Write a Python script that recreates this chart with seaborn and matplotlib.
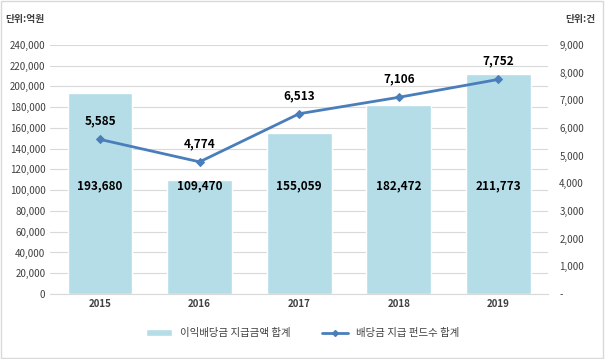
import seaborn as sns
import matplotlib.pyplot as plt
from matplotlib.ticker import FuncFormatter
from matplotlib.lines import Line2D
from matplotlib.patches import Patch

years = ["2015", "2016", "2017", "2018", "2019"]
dividend_amount = [193680, 109470, 155059, 182472, 211773]
fund_count = [5585, 4774, 6513, 7106, 7752]
bar_label = "이익배당금 지급금액 합계"
line_label = "배당금 지급 펀드수 합계"

sns.set_style("white")
plt.rcParams["font.family"] = ["Noto Sans CJK KR", "DejaVu Sans"]

bar_color = "#b4dde8"
line_color = "#4a7ebb"
text_color = "#404040"

fig = plt.figure(figsize=(6.05, 3.59), dpi=100)
ax = fig.add_axes([0.083, 0.181, 0.823, 0.694])
sns.barplot(x=years, y=dividend_amount, color=bar_color, width=0.65,
            saturation=1, ax=ax, zorder=2)
ax.set_ylim(0, 240000)
ax.set_yticks(range(0, 240001, 20000))
ax.yaxis.set_major_formatter(FuncFormatter(lambda v, p: f"{int(v):,}"))
ax.grid(axis="y", color="#d9d9d9", linewidth=0.8, zorder=0)
ax.set_axisbelow(True)
for s in ax.spines.values():
    s.set_visible(False)
ax.spines["bottom"].set_visible(True)
ax.spines["bottom"].set_color("#d9d9d9")
ax.tick_params(axis="both", length=0, labelsize=7, colors=text_color)
for lbl in ax.get_xticklabels():
    lbl.set_fontweight("bold")
ax.set_xlabel("")

for i, v in enumerate(dividend_amount):
    ax.text(i, 104000, f"{v:,}", ha="center", va="center", fontsize=8.5,
            fontweight="bold", color="black")

ax2 = ax.twinx()
sns.lineplot(x=list(range(len(years))), y=fund_count, color=line_color,
             linewidth=2, marker="D", markersize=4, markeredgecolor=line_color,
             ax=ax2, zorder=3)
ax2.set_ylim(0, 9000)
ax2.set_yticks(range(0, 9001, 1000))
ax2.yaxis.set_major_formatter(FuncFormatter(lambda v, p: "-" if v == 0 else f"{int(v):,}"))
for s in ax2.spines.values():
    s.set_visible(False)
ax2.tick_params(axis="y", length=0, labelsize=7, colors=text_color, pad=8)
ax2.set_xlim(-0.5, 4.5)

for i, v in enumerate(fund_count):
    ax2.text(i, v + 420, f"{v:,}", ha="center", va="bottom", fontsize=8.5,
             fontweight="bold", color="black")

fig.text(0.008, 0.94, "단위:억원", fontsize=7, color=text_color, fontweight="bold")
fig.text(0.935, 0.94, "단위:건", fontsize=7, color=text_color, fontweight="bold")

handles = [Patch(facecolor=bar_color, label=bar_label),
           Line2D([0], [0], color=line_color, linewidth=2, marker="D",
                  markersize=3, label=line_label)]
fig.legend(handles=handles, loc="center", bbox_to_anchor=(0.5, 0.072), ncol=2,
           frameon=False, fontsize=7.5, handlelength=2.5, columnspacing=3,
           labelcolor=text_color)

fig.patches.append(plt.Rectangle((0.002, 0.003), 0.995, 0.994, transform=fig.transFigure,
                                 fill=False, edgecolor="#d9d9d9", linewidth=1))
fig.savefig("out.png", dpi=100)
